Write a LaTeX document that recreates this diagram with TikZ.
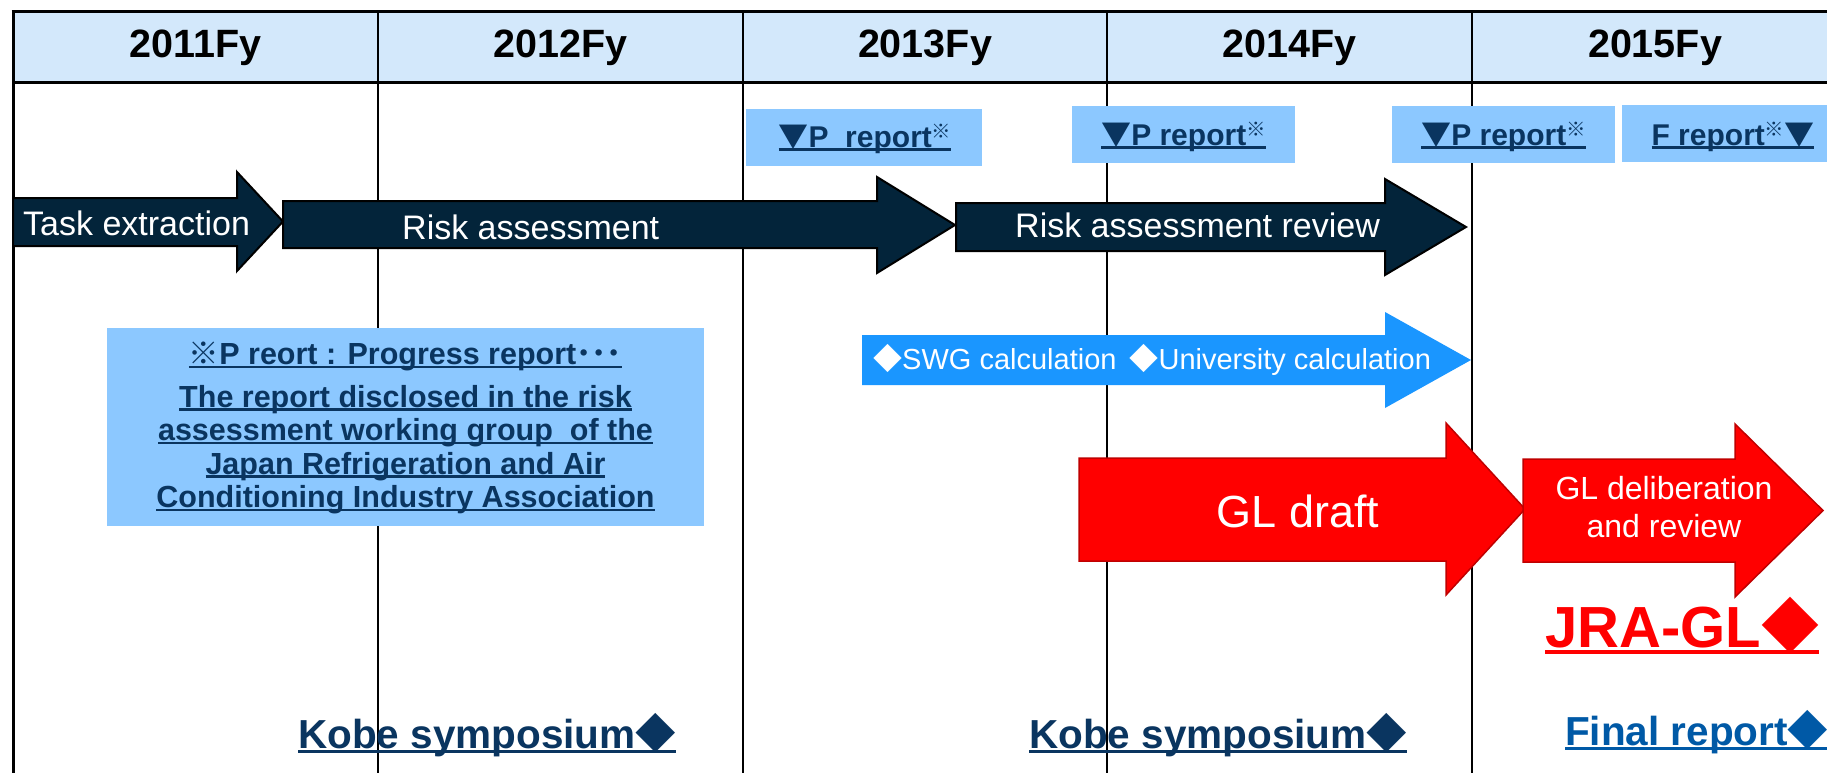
\documentclass[tikz,border=0pt]{standalone}
\usepackage{fontspec}
\usepackage{graphicx}
\setmainfont{Liberation Sans}
\newfontfamily\cjk{Noto Sans CJK JP}
\definecolor{headfill}{HTML}{D3E8FB}
\definecolor{pboxfill}{HTML}{8CC8FF}
\definecolor{navy}{HTML}{0A3560}
\definecolor{finalblue}{HTML}{0059A6}
\definecolor{darkarrow}{HTML}{03243A}
\definecolor{bluearrow}{HTML}{1A96FF}
\definecolor{redarrow}{HTML}{FF0000}
\definecolor{redborder}{HTML}{C00000}
\newcommand\dia{{\cjk ◆}}
\newcommand\tri{{\cjk ▼}}
\newcommand\kome{{\cjk ※}}
\newcommand\supk{\raisebox{0.3em}{\scalebox{0.65}{\kome}}}
\newcommand\myul[1]{\setbox0=\hbox{#1}\rlap{\rule[-0.12em]{\wd0}{0.075em}}\box0}
\newcommand\fs[1]{\fontsize{#1}{#1}\selectfont}
% block arrow: style, x0, x1, xtip, body top, body bottom, head top, head bottom
\newcommand\barrow[8]{\path[#1] (#2,#5) -- (#3,#5) -- (#3,#7) -- (#4,{(#7+#8)/2}) -- (#3,#8) -- (#3,#6) -- (#2,#6) -- cycle;}
\tikzset{
  gridline/.style={draw=black, line width=2.5pt},
  frameline/.style={draw=black, line width=3pt},
  yearlabel/.style={inner sep=0pt, font=\bfseries\fs{39.5}, text=black},
  pbox/.style={fill=pboxfill, draw=none, inner sep=0pt},
  ptext/.style={inner sep=0pt, anchor=base, font=\bfseries\fs{30}, text=navy},
  darkstyle/.style={fill=darkarrow, draw=black, line width=2pt},
  bluestyle/.style={fill=bluearrow, draw=none},
  redstyle/.style={fill=redarrow, draw=redborder, line width=1.5pt},
  whitetext/.style={inner sep=0pt, text=white},
  eventtext/.style={inner sep=0pt, anchor=base west, font=\bfseries\fs{40.5}},
}
\begin{document}
\begin{tikzpicture}[x=1pt,y=-1pt]
\useasboundingbox (0,0) rectangle (1827,773);
\clip (0,0) rectangle (1827,773);
\fill[white] (0,0) rectangle (1827,773);
% header
\fill[headfill] (13,12) rectangle (1845,83);
\draw[frameline] (11.5,12) -- (1845,12);
\draw[frameline] (13,83) -- (1845,83);
\draw[frameline] (13,12) -- (13,780);
\foreach \x in {378,743,1107,1472} \draw[gridline] (\x,12) -- (\x,780);
\node[yearlabel] (y2011) at (195.5,48) {2011Fy};
\node[yearlabel] (y2012) at (560.5,48) {2012Fy};
\node[yearlabel] (y2013) at (925,48) {2013Fy};
\node[yearlabel] (y2014) at (1289.5,48) {2014Fy};
\node[yearlabel] (y2015) at (1655,48) {2015Fy};
% progress report boxes
\node[pbox, minimum width=236pt, minimum height=57pt] (pb1) at (864,137.5) {};
\node[pbox, minimum width=223pt, minimum height=57pt] (pb2) at (1183.5,134.5) {};
\node[pbox, minimum width=223pt, minimum height=57pt] (pb3) at (1503.5,134.5) {};
\node[pbox, minimum width=220pt, minimum height=57pt] (pb4) at (1732,133.5) {};
\node[ptext] (pt1) at (865,147) {\myul{\tri P\ \ report\supk}};
\node[ptext] (pt2) at (1183.5,145) {\myul{\tri P report\supk}};
\node[ptext] (pt3) at (1503.5,145) {\myul{\tri P report\supk}};
\node[ptext] (pt4) at (1733,145) {\myul{F report\supk\tri}};
% dark arrows
\barrow{darkstyle}{13}{237}{283}{198}{246}{172}{271}
\barrow{darkstyle}{283}{877}{955}{201}{248}{177}{273}
\barrow{darkstyle}{956}{1385}{1466}{203}{251}{179}{275}
\node[whitetext, anchor=base west, font=\fs{34}] (task) at (23,235) {Task extraction};
\node[whitetext, anchor=base west, font=\fs{34}] (risk) at (402,239) {Risk assessment};
\node[whitetext, anchor=base west, font=\fs{34}] (review) at (1015,237) {Risk assessment review};
% note box
\node[pbox, minimum width=597pt, minimum height=198pt] (notebox) at (405.5,427) {};
\node[inner sep=0pt, text=navy, align=center, font=\bfseries\fontsize{30.5}{33.5}\selectfont] (note) at (405.5,428)
  {\myul{\kome P reort : Progress report{\cjk ･･･}}\\[9pt]
   \myul{The report disclosed in the risk}\\
   \myul{assessment working group\ \ of the}\\
   \myul{Japan Refrigeration and Air}\\
   \myul{Conditioning Industry Association}};
% blue arrow
\barrow{bluestyle}{862}{1385}{1471}{335}{385}{312}{408}
\node[whitetext, anchor=base west, font=\fs{29}] (calc) at (873,369) {\dia SWG calculation\hspace{0.45em}\dia University calculation};
% red arrows
\barrow{redstyle}{1079}{1446}{1525}{458}{561}{423}{595}
\barrow{redstyle}{1523}{1735}{1823}{459}{562}{424}{597}
\node[whitetext, anchor=base, font=\fs{45}] (draft) at (1298,527) {GL draft};
\node[whitetext, align=center, font=\fontsize{32}{38}\selectfont] (delib) at (1664,507) {GL deliberation\\and review};
% events
\node[inner sep=0pt, anchor=base west, text=redarrow, font=\bfseries\fs{58}] (jra) at (1545,647) {\myul{JRA-GL\dia}};
\node[eventtext, text=navy] (kobe1) at (298,748) {\myul{Kobe symposium\dia}};
\node[eventtext, text=navy] (kobe2) at (1029,748) {\myul{Kobe symposium\dia}};
\node[eventtext, text=finalblue] (final) at (1565,745) {\myul{Final report\dia}};
\end{tikzpicture}
\end{document}
